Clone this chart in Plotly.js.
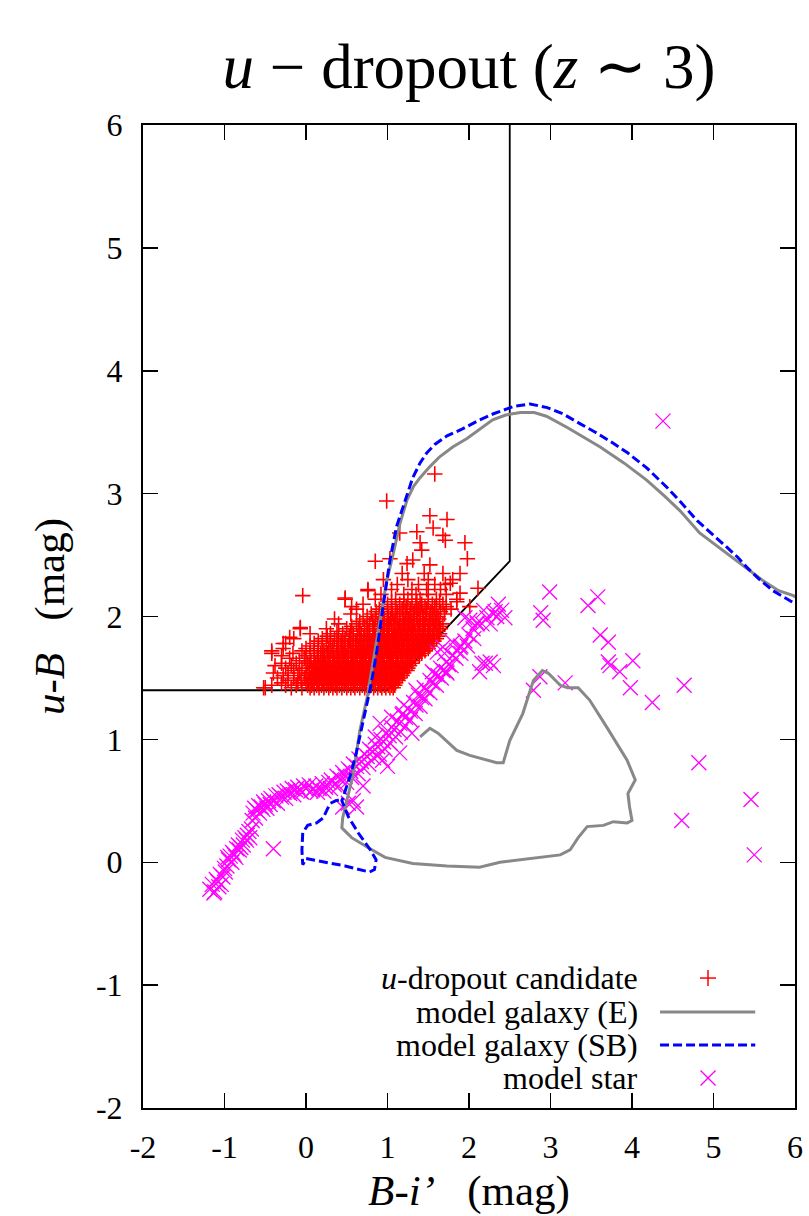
<!DOCTYPE html>
<html>
<head>
<meta charset="utf-8">
<script src="https://cdn.plot.ly/plotly-3.0.1.min.js"></script>
<style>html,body{margin:0;padding:0;background:#fff;}</style>
</head>
<body>
<div id="chart" style="width:809px;height:1216px;"></div>
<script>
// ---- selection criteria boundary ----
const selX = [-2, 1.0, 2.5, 2.5];
const selY = [1.4, 1.4, 2.45, 6];

// ---- u-dropout candidates (rows of constant u-B with B-i' values) ----
const candRowY = [1.42,1.44,1.46,1.48,1.50,1.52,1.54,1.56,1.58,1.60,1.62,1.64,1.66,1.68,1.70,1.72,1.74,1.76,1.78,1.80,1.82,1.84,1.86,1.88,1.90,1.92,1.94,1.96,1.98,2.00,2.02,2.04,2.06,2.08,2.10,2.12,2.14,2.18,2.22,2.26,2.30,2.35];
const candRowX = [
  [-0.52,-0.18,-0.05,0.05,0.10,0.16,0.22,0.28,0.33,0.38,0.44,0.50,0.55,0.60,0.66,0.72,0.77,0.83,0.88,0.93,0.98,1.03,1.07],
  [-0.42,-0.25,-0.12,0.02,0.07,0.13,0.19,0.25,0.30,0.36,0.41,0.47,0.52,0.58,0.63,0.69,0.74,0.80,0.85,0.91,0.96,1.01,1.05,1.09],
  [-0.30,-0.10,0.00,0.08,0.14,0.20,0.25,0.31,0.36,0.41,0.47,0.52,0.58,0.63,0.69,0.74,0.80,0.85,0.90,0.96,1.01,1.06,1.10],
  [-0.22,-0.06,0.03,0.10,0.16,0.22,0.27,0.33,0.38,0.44,0.49,0.55,0.60,0.66,0.71,0.77,0.82,0.88,0.93,0.98,1.04,1.08,1.13],
  [-0.35,-0.15,-0.02,0.06,0.12,0.18,0.24,0.29,0.35,0.40,0.46,0.51,0.57,0.62,0.68,0.73,0.79,0.84,0.90,0.95,1.00,1.06,1.11,1.15],
  [-0.28,-0.10,0.01,0.08,0.14,0.20,0.26,0.31,0.37,0.42,0.48,0.53,0.59,0.64,0.70,0.75,0.81,0.86,0.92,0.97,1.03,1.08,1.13,1.18],
  [-0.40,-0.22,-0.08,0.04,0.10,0.16,0.22,0.27,0.33,0.39,0.44,0.50,0.55,0.61,0.66,0.72,0.77,0.83,0.88,0.94,0.99,1.05,1.10,1.16,1.20],
  [-0.15,0.00,0.08,0.15,0.21,0.27,0.32,0.38,0.44,0.49,0.55,0.60,0.66,0.71,0.77,0.82,0.88,0.93,0.99,1.04,1.10,1.15,1.21,1.24],
  [-0.25,-0.05,0.07,0.13,0.19,0.25,0.30,0.36,0.42,0.47,0.53,0.58,0.64,0.69,0.75,0.80,0.86,0.91,0.97,1.02,1.08,1.13,1.19,1.25],
  [-0.38,-0.18,0.04,0.10,0.16,0.22,0.28,0.33,0.39,0.44,0.50,0.55,0.61,0.66,0.72,0.77,0.83,0.88,0.94,0.99,1.05,1.10,1.16,1.22,1.27],
  [-0.30,-0.12,0.02,0.12,0.18,0.24,0.30,0.35,0.41,0.46,0.52,0.57,0.63,0.68,0.74,0.79,0.85,0.90,0.96,1.01,1.07,1.12,1.18,1.24,1.30],
  [-0.08,0.06,0.15,0.22,0.28,0.35,0.41,0.47,0.52,0.58,0.63,0.69,0.74,0.80,0.85,0.91,0.96,1.02,1.07,1.13,1.19,1.25,1.31],
  [-0.20,-0.02,0.10,0.20,0.27,0.33,0.39,0.44,0.50,0.55,0.61,0.66,0.72,0.77,0.83,0.88,0.94,0.99,1.05,1.10,1.16,1.22,1.28,1.34],
  [-0.30,0.00,0.14,0.23,0.30,0.37,0.43,0.49,0.55,0.60,0.66,0.71,0.77,0.82,0.88,0.93,0.99,1.04,1.10,1.16,1.22,1.28,1.34,1.39],
  [-0.42,-0.16,0.05,0.18,0.26,0.34,0.40,0.46,0.52,0.58,0.63,0.69,0.74,0.80,0.85,0.91,0.96,1.02,1.07,1.13,1.19,1.25,1.31,1.37,1.42],
  [-0.05,0.10,0.22,0.32,0.40,0.48,0.55,0.61,0.67,0.72,0.78,0.83,0.89,0.94,1.00,1.05,1.11,1.17,1.23,1.29,1.35,1.41,1.46],
  [-0.28,0.00,0.15,0.28,0.38,0.45,0.52,0.58,0.64,0.70,0.75,0.81,0.86,0.92,0.97,1.03,1.08,1.14,1.20,1.26,1.32,1.38,1.44,1.50],
  [0.05,0.20,0.33,0.43,0.51,0.58,0.65,0.71,0.77,0.82,0.88,0.93,0.99,1.04,1.10,1.15,1.21,1.27,1.33,1.39,1.45,1.52],
  [-0.25,0.10,0.25,0.38,0.47,0.55,0.62,0.68,0.74,0.79,0.85,0.90,0.96,1.01,1.07,1.12,1.18,1.24,1.30,1.36,1.42,1.48,1.55],
  [0.15,0.30,0.43,0.53,0.61,0.68,0.75,0.81,0.87,0.92,0.98,1.03,1.09,1.14,1.20,1.26,1.32,1.38,1.44,1.50,1.57],
  [-0.15,0.20,0.35,0.48,0.58,0.66,0.72,0.78,0.84,0.89,0.95,1.00,1.06,1.11,1.17,1.23,1.29,1.35,1.41,1.47,1.53,1.60],
  [0.26,0.40,0.53,0.63,0.71,0.78,0.85,0.91,0.96,1.02,1.08,1.13,1.19,1.25,1.31,1.37,1.43,1.49,1.55,1.62],
  [0.05,0.30,0.45,0.58,0.68,0.75,0.82,0.88,0.94,0.99,1.05,1.10,1.16,1.22,1.28,1.34,1.40,1.46,1.52,1.58,1.64],
  [0.38,0.55,0.66,0.76,0.84,0.90,0.96,1.02,1.08,1.14,1.20,1.26,1.32,1.38,1.44,1.50,1.56,1.62],
  [-0.07,0.25,0.50,0.65,0.75,0.84,0.90,0.96,1.02,1.08,1.14,1.20,1.26,1.32,1.38,1.44,1.50,1.57,1.65],
  [0.56,0.72,0.83,0.92,0.99,1.05,1.12,1.18,1.24,1.30,1.37,1.43,1.50,1.57,1.64],
  [0.40,0.62,0.78,0.88,0.95,1.02,1.08,1.15,1.21,1.27,1.33,1.40,1.46,1.53,1.60,1.68],
  [0.66,0.82,0.92,1.00,1.08,1.15,1.22,1.30,1.37,1.44,1.51,1.59],
  [0.35,0.70,0.85,0.96,1.04,1.12,1.19,1.26,1.33,1.40,1.47,1.55,1.63],
  [0.75,0.90,1.01,1.10,1.19,1.28,1.36,1.44,1.52,1.62],
  [0.55,0.80,0.95,1.06,1.15,1.24,1.32,1.40,1.48,1.57,1.70],
  [0.86,1.00,1.12,1.22,1.33,1.43,1.53,1.65],
  [0.62,0.90,1.05,1.18,1.28,1.38,1.48,1.60,1.78],
  [0.95,1.10,1.23,1.35,1.46,1.58,1.72],
  [0.70,1.00,1.15,1.30,1.42,1.55,1.68],
  [1.05,1.20,1.36,1.50,1.64],
  [0.48,0.85,1.10,1.25,1.40,1.60,1.85],
  [0.92,1.20,1.35,1.50,1.72],
  [0.76,1.05,1.30,1.48,1.65],
  [1.12,1.38,1.58,1.71],
  [0.95,1.25,1.50,1.80],
  [1.18,1.45,1.68,1.89]
];
const candOutX = [0.99,1.58,1.52,1.73,1.56,1.68,1.71,1.95,1.98,1.36,1.15,1.40,1.42,0.85,1.03,1.24,1.31,1.52,1.77,1.89,-0.04,0.48,0.76,0.56,-0.20,-0.42,-0.50,1.85,2.01,2.11,-0.28,-0.07];
const candOutY = [2.94,3.16,2.82,2.79,2.72,2.66,2.62,2.60,2.47,2.69,2.68,2.60,2.54,2.45,2.47,2.43,2.46,2.42,2.27,2.19,2.17,2.15,2.21,2.08,1.83,1.72,1.42,2.12,2.08,2.23,1.78,1.91];

// ---- model galaxy tracks ----
const eX = [1.40,1.52,1.62,1.85,2.01,2.34,2.42,2.50,2.66,2.79,2.90,2.97,3.12,3.21,3.34,3.48,3.69,3.94,4.04,3.95,3.97,4.00,3.94,3.77,3.65,3.45,3.34,3.24,3.12,2.75,2.38,2.13,1.73,1.31,0.97,0.76,0.56,0.44,0.45,0.58,0.66,0.75,0.85,0.99,1.07,1.15,1.24,1.32,1.40,1.52,1.64,1.80,1.98,2.15,2.29,2.45,2.63,2.80,2.95,3.20,3.40,3.61,3.90,4.18,4.40,4.59,4.83,5.05,5.24,5.45,5.61,5.80,5.98,6.10];
const eY = [1.02,1.09,1.05,0.91,0.87,0.81,0.81,0.99,1.21,1.48,1.56,1.54,1.44,1.42,1.42,1.32,1.10,0.83,0.67,0.56,0.45,0.34,0.32,0.33,0.30,0.29,0.20,0.10,0.06,0.03,0.00,-0.04,-0.03,-0.01,0.04,0.12,0.20,0.28,0.36,0.72,1.07,1.34,1.75,2.29,2.51,2.75,2.95,3.06,3.13,3.22,3.30,3.38,3.45,3.53,3.60,3.64,3.66,3.66,3.63,3.54,3.46,3.38,3.25,3.11,2.98,2.86,2.68,2.57,2.48,2.37,2.29,2.21,2.17,2.12];
const sbX = [6.10,5.96,5.73,5.55,5.41,5.30,5.17,5.00,4.80,4.60,4.43,4.18,3.95,3.77,3.55,3.36,3.15,2.96,2.75,2.55,2.30,2.13,1.90,1.73,1.58,1.48,1.40,1.31,1.24,1.19,1.11,1.03,0.95,0.87,0.80,0.72,0.62,0.55,0.48,0.44,0.52,0.64,0.79,0.86,0.84,0.78,0.48,0.15,0.00,-0.04,-0.05,-0.04,0.02,0.13,0.21,0.26,0.30,0.36,0.42];
const sbY = [2.06,2.12,2.21,2.31,2.40,2.48,2.56,2.66,2.78,2.93,3.05,3.21,3.33,3.41,3.50,3.57,3.65,3.70,3.73,3.71,3.65,3.60,3.52,3.47,3.40,3.33,3.25,3.13,3.00,2.89,2.73,2.46,2.10,1.72,1.45,1.20,0.90,0.72,0.58,0.50,0.37,0.24,0.10,0.02,-0.06,-0.08,-0.03,0.01,0.03,-0.02,0.10,0.24,0.30,0.32,0.36,0.43,0.48,0.50,0.51];

// ---- model stars ----
const starX = [-1.18,-1.15,-1.12,-1.10,-1.07,-1.05,-1.02,-1.00,-0.97,-0.95,-0.93,-0.90,-0.88,-0.85,-0.83,-0.80,-0.78,-0.75,-0.72,-0.70,-0.67,-0.65,-0.63,-0.60,-0.58,-0.55,-0.52,-0.50,-0.46,-0.43,-0.40,-0.37,-0.33,-0.30,-0.27,-0.23,-0.20,-0.17,-0.13,-0.10,-0.07,-0.03,0.00,0.04,0.08,0.12,0.16,0.20,0.24,0.28,0.31,0.35,0.38,0.42,0.45,0.48,0.52,0.55,0.58,0.62,0.65,0.68,0.72,0.75,0.78,0.82,0.85,0.88,0.92,0.95,0.98,1.02,1.05,1.08,1.12,1.15,1.18,1.22,1.25,1.28,1.32,1.35,1.38,1.42,1.45,1.48,1.52,1.55,1.58,1.62,1.65,1.68,1.72,1.75,1.80,1.85,1.90,1.95,2.00,2.05,2.10,2.16,2.22,2.30,2.36,2.40,2.44,2.26,
  -1.13,-1.08,-1.04,-0.99,-0.96,-0.91,-0.86,-0.82,-0.77,-0.73,-0.69,-0.66,-0.62,-0.57,-0.53,-0.48,-0.44,-0.35,-0.25,-0.15,-0.05,0.06,0.14,0.22,0.30,0.40,0.50,0.56,0.64,0.70,0.77,0.83,0.90,0.97,1.03,1.10,1.16,1.22,1.28,1.34,1.40,1.46,1.52,1.60,1.66,1.72,1.78,1.84,1.90,1.98,2.06,1.20,1.35,1.55,1.70,1.05,0.85,2.18,2.34,2.32,1.61,1.68,1.80,1.89,
  -0.40,0.58,0.45,0.91,0.94,1.15,1.19,1.73,1.30,1.00,0.70,2.16,2.20,2.26,2.13,2.30,0.52,0.62,
  4.38,2.99,2.88,2.91,3.46,3.58,3.61,3.71,3.71,3.73,4.01,3.85,3.98,4.25,4.64,4.82,4.61,5.46,5.50,2.87,2.79,3.18,1.95,2.01,2.10];
const starY = [-0.22,-0.18,-0.24,-0.14,-0.20,-0.10,-0.12,-0.05,-0.03,0.02,0.05,0.08,0.06,0.11,0.14,0.12,0.18,0.20,0.22,0.25,0.27,0.40,0.44,0.42,0.46,0.45,0.49,0.47,0.50,0.52,0.50,0.54,0.55,0.53,0.57,0.58,0.56,0.60,0.59,0.61,0.58,0.62,0.60,0.63,0.59,0.62,0.60,0.64,0.61,0.65,0.67,0.63,0.70,0.68,0.73,0.70,0.76,0.74,0.80,0.78,0.84,0.82,0.88,0.86,0.92,0.90,0.96,0.94,1.00,0.98,1.05,1.03,1.10,1.08,1.15,1.13,1.20,1.18,1.25,1.23,1.30,1.28,1.36,1.34,1.42,1.40,1.48,1.46,1.53,1.52,1.58,1.56,1.63,1.61,1.68,1.72,1.76,1.80,1.85,1.90,1.95,1.94,1.99,2.02,2.10,2.05,1.99,1.94,
  -0.25,-0.16,-0.18,-0.08,0.04,0.00,0.04,0.10,0.14,0.18,0.20,0.34,0.36,0.40,0.43,0.44,0.47,0.48,0.52,0.55,0.57,0.58,0.57,0.58,0.60,0.62,0.65,0.69,0.72,0.77,0.80,0.85,0.88,0.92,0.97,1.02,1.06,1.11,1.16,1.21,1.27,1.33,1.38,1.44,1.50,1.55,1.60,1.66,1.70,1.76,1.82,1.28,1.40,1.55,1.70,1.18,1.02,2.05,2.00,2.04,1.71,1.75,1.79,1.75,
  0.11,0.50,0.45,1.13,0.83,0.89,1.21,1.54,1.05,0.78,0.62,1.62,1.62,1.63,1.55,1.60,0.48,0.45,
  3.59,2.20,2.03,1.97,2.09,2.16,1.85,1.79,1.63,1.60,1.64,1.55,1.42,1.30,1.44,0.81,0.34,0.51,0.06,1.51,1.40,1.46,1.99,1.97,1.94];

// ---- axis ticks and labels ----
const tickVals = [-2,-1,0,1,2,3,4,5,6];
const tickText = ['-2','-1','0','1','2','3','4','5','6'];
const legendLabels = ['<i>u</i>-dropout candidate','model galaxy (E)','model galaxy (SB)','model star'];

// build flat candidate arrays from rows
const candX = [], candY = [];
candRowX.forEach((row, i) => row.forEach(x => { candX.push(x); candY.push(candRowY[i]); }));
candOutX.forEach((x, i) => { candX.push(x); candY.push(candOutY[i]); });

const FONT = 'Liberation Serif';

const traces = [
  {x: selX, y: selY, mode: 'lines', line: {color: '#000', width: 1.8}, hoverinfo: 'skip'},
  {x: candX, y: candY, mode: 'markers', name: 'u-dropout candidate',
   marker: {symbol: 'cross-thin-open', size: 11, color: '#ff0000', line: {color: '#ff0000', width: 1.6}}},
  {x: starX, y: starY, mode: 'markers', name: 'model star',
   marker: {symbol: 'x-thin-open', size: 15, color: '#ff00ff', line: {color: '#ff00ff', width: 1.3}}},
  {x: eX, y: eY, mode: 'lines', name: 'model galaxy (E)', line: {color: '#888888', width: 3}},
  {x: sbX, y: sbY, mode: 'lines', name: 'model galaxy (SB)', line: {color: '#0000ff', width: 3, dash: '9px,4px'}}
];

// legend (text right-aligned, samples on the right), paper coordinates
const rowsY = [0.1322, 0.0977, 0.0641, 0.0305];
const annotations = legendLabels.map((t, i) => ({
  xref: 'paper', yref: 'paper', x: 0.762, y: rowsY[i], xanchor: 'right', yanchor: 'middle',
  text: t, showarrow: false, font: {family: FONT, size: 32, color: '#000'}
}));
const symX = 0.8666;
const shapes = [
  {type: 'line', xref: 'paper', yref: 'paper', xsizemode: 'pixel', ysizemode: 'pixel', xanchor: symX, yanchor: rowsY[0], x0: -8, x1: 8, y0: 0, y1: 0, line: {color: '#ff0000', width: 1.5}},
  {type: 'line', xref: 'paper', yref: 'paper', xsizemode: 'pixel', ysizemode: 'pixel', xanchor: symX, yanchor: rowsY[0], x0: 0, x1: 0, y0: -8, y1: 8, line: {color: '#ff0000', width: 1.5}},
  {type: 'line', xref: 'paper', yref: 'paper', x0: 0.793, x1: 0.939, y0: rowsY[1], y1: rowsY[1], line: {color: '#888888', width: 3}},
  {type: 'line', xref: 'paper', yref: 'paper', x0: 0.793, x1: 0.939, y0: rowsY[2], y1: rowsY[2], line: {color: '#0000ff', width: 3, dash: '9px,4px'}},
  {type: 'line', xref: 'paper', yref: 'paper', xsizemode: 'pixel', ysizemode: 'pixel', xanchor: symX, yanchor: rowsY[3], x0: -7.5, x1: 7.5, y0: -7.5, y1: 7.5, line: {color: '#ff00ff', width: 1.3}},
  {type: 'line', xref: 'paper', yref: 'paper', xsizemode: 'pixel', ysizemode: 'pixel', xanchor: symX, yanchor: rowsY[3], x0: -7.5, x1: 7.5, y0: 7.5, y1: -7.5, line: {color: '#ff00ff', width: 1.3}}
];

const axisCommon = {
  range: [-2, 6], tickmode: 'array', tickvals: tickVals, ticktext: tickText,
  ticks: 'inside', ticklen: 15, tickwidth: 1.5, tickcolor: '#000',
  showline: true, linewidth: 2, linecolor: '#000', mirror: 'ticks',
  showgrid: false, zeroline: false,
  tickfont: {family: FONT, size: 32, color: '#000'}
};

const layout = {
  width: 809, height: 1216,
  margin: {l: 143, r: 14, t: 125, b: 108},
  paper_bgcolor: '#fff', plot_bgcolor: '#fff',
  showlegend: false,
  font: {family: FONT, color: '#000'},
  title: {text: '<i>u</i> − dropout (<i>z</i> ∼ 3)', x: 0.5, xref: 'paper', y: 0.946, yref: 'container', yanchor: 'middle',
          font: {family: FONT, size: 63, color: '#000'}},
  xaxis: Object.assign({}, axisCommon, {ticklabelstandoff: 10,
    title: {text: '<i>B</i>-<i>i’</i>&nbsp;&nbsp;&nbsp;(mag)', font: {family: FONT, size: 43, color: '#000'}, standoff: 10}}),
  yaxis: Object.assign({}, axisCommon, {ticklabelstandoff: 12,
    title: {text: '<i>u</i>-<i>B</i>&nbsp;&nbsp;&nbsp;(mag)', font: {family: FONT, size: 43, color: '#000'}, standoff: 18}}),
  annotations: annotations,
  shapes: shapes
};

Plotly.newPlot('chart', traces, layout, {displayModeBar: false, staticPlot: true});
</script>
</body>
</html>
